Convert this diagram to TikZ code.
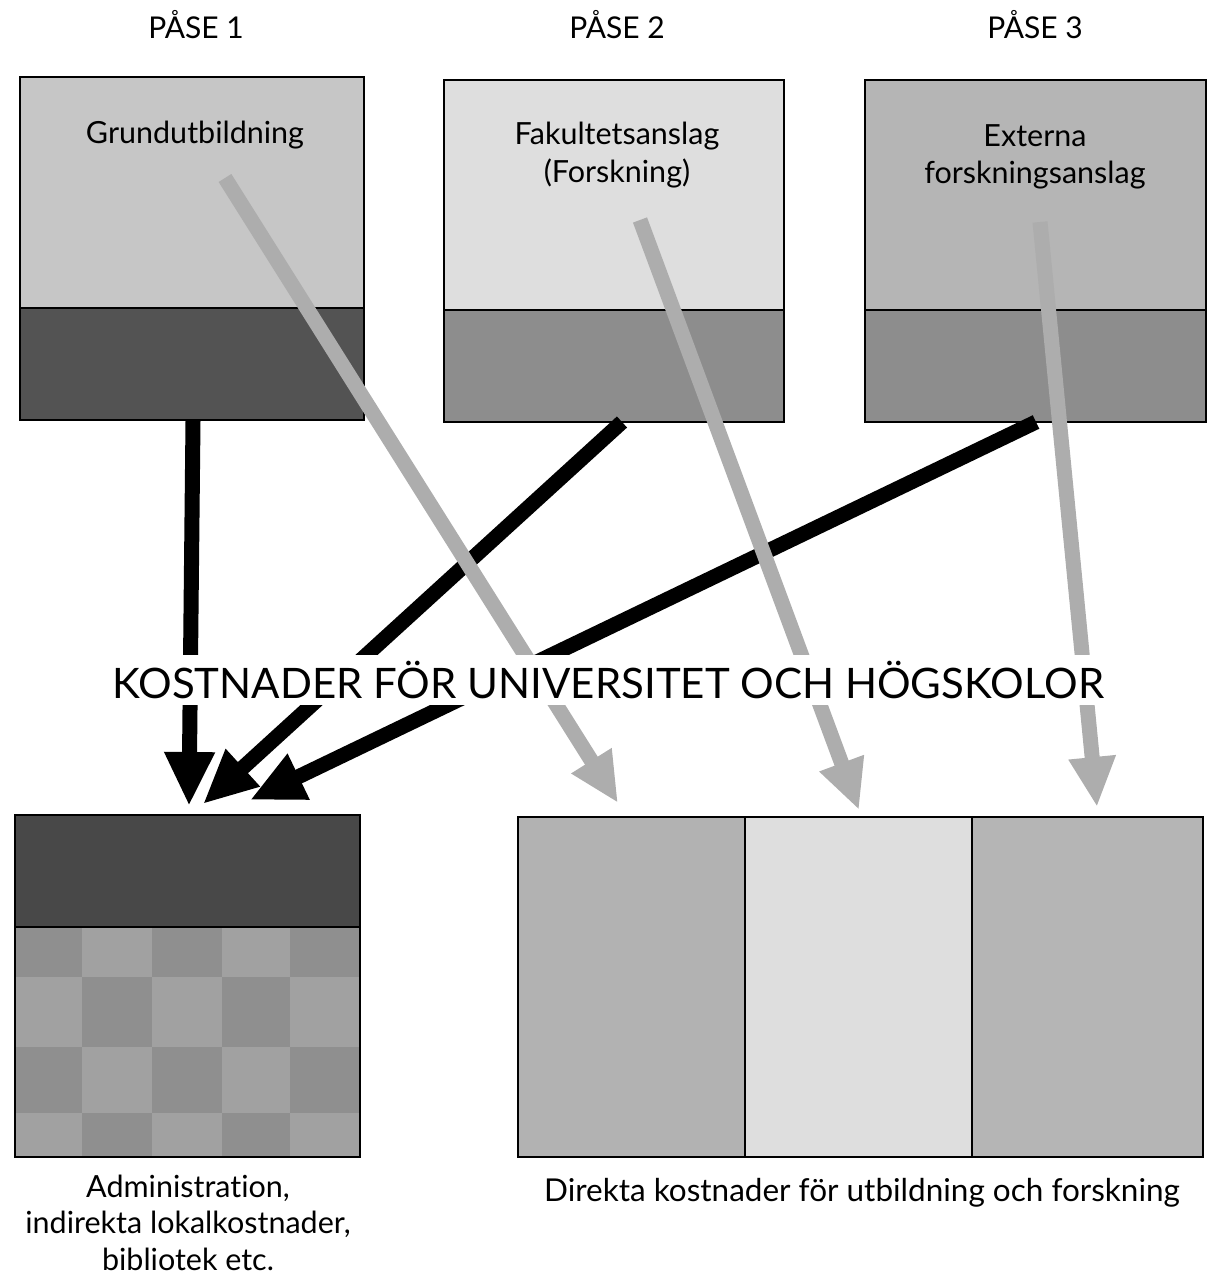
\documentclass[tikz,border=0pt]{standalone}
\usepackage{fontspec}
\setmainfont{Lato}[Ligatures={NoCommon}]
\usetikzlibrary{arrows.meta}
\definecolor{aTop}{HTML}{C6C6C6}
\definecolor{aBot}{HTML}{535353}
\definecolor{bTop}{HTML}{DEDEDE}
\definecolor{bBot}{HTML}{8D8D8D}
\definecolor{cTop}{HTML}{B5B5B5}
\definecolor{cBot}{HTML}{8D8D8D}
\definecolor{adminTop}{HTML}{484848}
\definecolor{chkDark}{HTML}{8F8F8F}
\definecolor{chkLight}{HTML}{A1A1A1}
\definecolor{dirA}{HTML}{B2B2B2}
\definecolor{dirB}{HTML}{DEDEDE}
\definecolor{dirC}{HTML}{B5B5B5}
\definecolor{grayArrow}{HTML}{ADADAD}
\begin{document}
\begin{tikzpicture}[x=1pt,y=-1pt,
  part/.style={draw=black, line width=2.5pt, anchor=north west, inner sep=0pt, outer sep=0pt},
  lbl/.style={font=\fontsize{30.5}{38}\selectfont, align=center, anchor=base},
  hdr/.style={font=\fontsize{30}{34}\selectfont, anchor=base},
  blackarrow/.style={line width=15pt, -{Triangle[width=47pt,length=54pt]}, black},
  grayarr/.style={line width=15pt, -{Triangle[width=44pt,length=50pt]}, grayArrow}]
\useasboundingbox (0,0) rectangle (1208,1281);

% headers
\node[hdr] (h1) at (196,39) {PÅSE 1};
\node[hdr] (h2) at (617,39) {PÅSE 2};
\node[hdr] (h3) at (1035,39) {PÅSE 3};

% top boxes
\node[part, fill=aTop, minimum width=344pt, minimum height=231pt] (p1t) at (20,77) {};
\node[part, fill=aBot, minimum width=344pt, minimum height=112pt] (p1b) at (20,308) {};
\node[part, fill=bTop, minimum width=340pt, minimum height=230pt] (p2t) at (444,80) {};
\node[part, fill=bBot, minimum width=340pt, minimum height=112pt] (p2b) at (444,310) {};
\node[part, fill=cTop, minimum width=341pt, minimum height=230pt] (p3t) at (865,80) {};
\node[part, fill=cBot, minimum width=341pt, minimum height=112pt] (p3b) at (865,310) {};

\node[lbl] (l1) at (195,144) {Grundutbildning};
\node[lbl] (l2) at (617,183) {Fakultetsanslag\\(Forskning)};
\node[lbl, font=\fontsize{30.5}{37}\selectfont] (l3) at (1035,184) {Externa\\forskningsanslag};

% bottom left box
\node[part, fill=adminTop, minimum width=345pt, minimum height=112pt] (adm) at (15,815) {};
\begin{scope}
  \fill[chkLight] (15,927) rectangle (360,1157);
  \foreach \xa/\xb [count=\i] in {15/82,82/152,152/222,222/290,290/360}{
    \foreach \ya/\yb [count=\j] in {927/977,977/1047,1047/1113,1113/1157}{
      \pgfmathtruncatemacro{\chkpar}{mod(\i+\j,2)}
      \ifnum\chkpar=0 \fill[chkDark] (\xa,\ya) rectangle (\xb,\yb);\fi
    }
  }
\end{scope}
\node[part, minimum width=345pt, minimum height=230pt] (chk) at (15,927) {};

% bottom right box
\node[part, fill=dirA, minimum width=227pt, minimum height=340pt] (d1) at (518,817) {};
\node[part, fill=dirB, minimum width=227pt, minimum height=340pt] (d2) at (745,817) {};
\node[part, fill=dirC, minimum width=231pt, minimum height=340pt] (d3) at (972,817) {};

% connector end points
\coordinate (bs1) at (193,421);
\coordinate (bt1) at (189,806);
\coordinate (bs2) at (622,422);
\coordinate (bt2) at (203,804);
\coordinate (bs3) at (1036,422);
\coordinate (bt3) at (250,800);
\coordinate (gs1) at (225,178);
\coordinate (gt1) at (618,803);
\coordinate (gs2) at (640,220);
\coordinate (gt2) at (859,810);
\coordinate (gs3) at (1040,222);
\coordinate (gt3) at (1097,807);

\draw[blackarrow] (bs1) -- (bt1);
\draw[blackarrow] (bs2) -- (bt2);
\draw[blackarrow] (bs3) -- (bt3);
\draw[grayarr] (gs1) -- (gt1);
\draw[grayarr] (gs2) -- (gt2);
\draw[grayarr] (gs3) -- (gt3);

% title
\node[fill=white, inner xsep=6pt, inner ysep=6pt, font=\fontsize{42}{46}\selectfont] (title) at (608,680) {KOSTNADER FÖR UNIVERSITET OCH HÖGSKOLOR};

% bottom labels
\node[lbl, font=\fontsize{30.5}{36.5}\selectfont] (la) at (188,1270) {Administration,\\indirekta lokalkostnader,\\bibliotek etc.};
\node[lbl, font=\fontsize{31.5}{36}\selectfont] (ld) at (862,1201) {Direkta kostnader för utbildning och forskning};
\end{tikzpicture}
\end{document}
